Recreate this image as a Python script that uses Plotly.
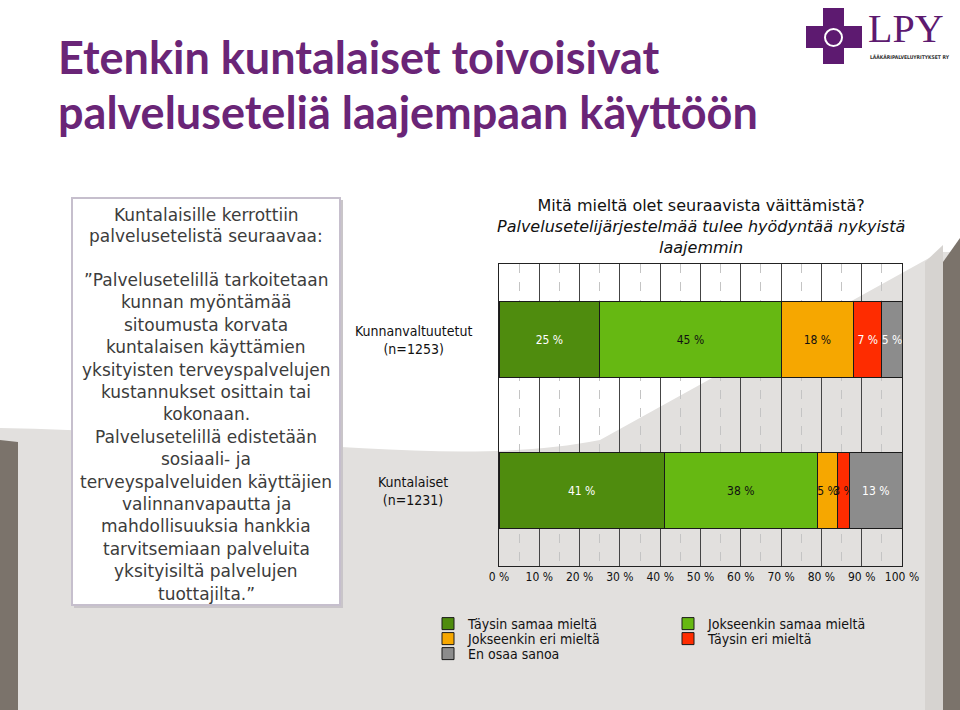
import plotly.graph_objects as go

# ---------------- data ----------------
categories = ["Kunnanvaltuutetut", "Kuntalaiset"]
n_values = [1253, 1231]
series_names = ["Täysin samaa mieltä", "Jokseenkin samaa mieltä",
                "Jokseenkin eri mieltä", "Täysin eri mieltä", "En osaa sanoa"]
taysin_samaa = [25, 41]
jokseenkin_samaa = [45, 38]
jokseenkin_eri = [18, 5]
taysin_eri = [7, 3]
en_osaa = [5, 13]
x_tick_values = [0, 10, 20, 30, 40, 50, 60, 70, 80, 90, 100]
x_tick_labels = [f"{v} %" for v in x_tick_values]

title_lines = ["Etenkin kuntalaiset toivoisivat", "palveluseteliä laajempaan käyttöön"]
chart_title_lines = ["Mitä mieltä olet seuraavista väittämistä?",
                     "<i>Palvelusetelijärjestelmää tulee hyödyntää nykyistä</i>",
                     "<i>laajemmin</i>"]
box_lines_head = ["Kuntalaisille kerrottiin", "palvelusetelistä seuraavaa:"]
box_lines_body = ["”Palvelusetelillä tarkoitetaan", "kunnan myöntämää", "sitoumusta korvata",
                  "kuntalaisen käyttämien", "yksityisten terveyspalvelujen",
                  "kustannukset osittain tai", "kokonaan.", "Palvelusetelillä edistetään",
                  "sosiaali- ja", "terveyspalveluiden käyttäjien", "valinnanvapautta ja",
                  "mahdollisuuksia hankkia", "tarvitsemiaan palveluita",
                  "yksityisiltä palvelujen", "tuottajilta.”"]

# ---------------- styles ----------------
W, H = 960, 710
PL, PR, PT, PB = 499, 902, 264, 566   # plot area in pixels
colors = ["#4f8c0e", "#66b812", "#f6a700", "#fe2c00", "#8c8c8c"]
CF = "DejaVu Sans Condensed, DejaVu Sans, sans-serif"


def px(x):
    return (x - PL) / (PR - PL)


def py(y):
    return (PB - y) / (PB - PT)


series = [taysin_samaa, jokseenkin_samaa, jokseenkin_eri, taysin_eri, en_osaa]
text_colors = [["white", "white"], ["#111111", "#111111"], ["#111111", "#111111"],
               ["white", "#111111"], ["white", "white"]]
legend_ids = ["legend", "legend2", "legend3", "legend4", "legend5"]

fig = go.Figure()
for name, vals, col, tc, lg in zip(series_names, series, colors, text_colors, legend_ids):
    fig.add_trace(go.Bar(
        y=categories, x=vals, name=name, orientation="h",
        marker=dict(color=col, line=dict(color="#1a1a1a", width=1)),
        text=[f"{v} %" for v in vals], textposition="inside", textangle=0,
        insidetextanchor="middle", constraintext="none",
        textfont=dict(family=CF, size=12, color=tc),
        width=0.5, legend=lg, hoverinfo="skip",
    ))

# legend positions (pixel rows / columns)
leg_pos = {"legend": (428, 624), "legend2": (668, 624), "legend3": (428, 639),
           "legend4": (668, 639), "legend5": (428, 654)}
legend_layouts = {}
for k, (lx, ly) in leg_pos.items():
    legend_layouts[k] = dict(x=px(lx), y=py(ly), xanchor="left", yanchor="middle",
                             bgcolor="rgba(0,0,0,0)", borderwidth=0,
                             font=dict(family=CF, size=14, color="#111111"),
                             itemwidth=30, tracegroupgap=0)

shapes = []
# background: light gray swoosh panel
shapes.append(dict(type="path", xref="paper", yref="paper", layer="below",
                   path=(f"M {px(0)},{py(428)} C {px(250)},{py(432)} {px(450)},{py(470)} {px(600)},{py(440)} "
                         f"L {px(940)},{py(252)} L {px(960)},{py(252)} L {px(960)},{py(710)} "
                         f"L {px(0)},{py(710)} Z"),
                   fillcolor="#e2e0de", line=dict(width=0)))
# dark side strips
shapes.append(dict(type="path", xref="paper", yref="paper", layer="below",
                   path=f"M {px(0)},{py(440)} L {px(18)},{py(442)} L {px(18)},{py(710)} L {px(0)},{py(710)} Z",
                   fillcolor="#7b736b", line=dict(width=0)))
shapes.append(dict(type="path", xref="paper", yref="paper", layer="below",
                   path=f"M {px(943)},{py(262)} L {px(960)},{py(238)} L {px(960)},{py(710)} L {px(943)},{py(710)} Z",
                   fillcolor="#7b736b", line=dict(width=0)))
shapes.append(dict(type="path", xref="paper", yref="paper", layer="below",
                   path=f"M {px(925)},{py(262)} L {px(943)},{py(245)} L {px(943)},{py(710)} L {px(925)},{py(710)} Z",
                   fillcolor="#d6d3d0", line=dict(width=0)))
# text box shadow + box
shapes.append(dict(type="rect", xref="paper", yref="paper", layer="below",
                   x0=px(74), x1=px(343), y0=py(200), y1=py(608),
                   fillcolor="#c9c5c9", line=dict(width=0)))
shapes.append(dict(type="rect", xref="paper", yref="paper", layer="below",
                   x0=px(72), x1=px(340), y0=py(198), y1=py(605),
                   fillcolor="white", line=dict(color="#c6bfcd", width=2)))
# logo: purple cross with circle
LOGO = "#5d1a70"
shapes.append(dict(type="rect", xref="paper", yref="paper", layer="above",
                   x0=px(806), x1=px(862), y0=py(26), y1=py(48), fillcolor=LOGO, line=dict(width=0)))
shapes.append(dict(type="rect", xref="paper", yref="paper", layer="above",
                   x0=px(823), x1=px(844), y0=py(8), y1=py(64), fillcolor=LOGO, line=dict(width=0)))
shapes.append(dict(type="circle", xref="paper", yref="paper", layer="above",
                   x0=px(825), x1=px(842), y0=py(29), y1=py(46), fillcolor=LOGO,
                   line=dict(color="white", width=2)))

annotations = []
# main title
for i, t in enumerate(title_lines):
    annotations.append(dict(text=f"<b>{t}</b>", xref="paper", yref="paper",
                            x=px(56), y=py(57 + 55 * i), xanchor="left", yanchor="middle",
                            showarrow=False,
                            font=dict(family="Lato, sans-serif", size=45, color="#6a2577")))
# logo text
annotations.append(dict(text="LPY", xref="paper", yref="paper", x=px(866), y=py(29),
                        xanchor="left", yanchor="middle", showarrow=False,
                        font=dict(family="Liberation Serif, serif", size=40, color=LOGO)))
annotations.append(dict(text="<b>LÄÄKÄRIPALVELUYRITYKSET RY</b>", xref="paper", yref="paper",
                        x=px(868), y=py(57), xanchor="left", yanchor="middle", showarrow=False,
                        font=dict(family="DejaVu Sans Condensed, sans-serif", size=5, color="#333333")))
# chart title (one block, three lines)
annotations.append(dict(text="<br>".join(chart_title_lines), xref="paper", yref="paper",
                        x=px(701), y=py(227), xanchor="center", yanchor="middle",
                        align="center", showarrow=False,
                        font=dict(family="DejaVu Sans, sans-serif", size=16, color="#111111")))
# text box lines
box_x = px(206)
for i, t in enumerate(box_lines_head):
    annotations.append(dict(text=t, xref="paper", yref="paper", x=box_x, y=py(215 + 21.5 * i),
                            xanchor="center", yanchor="middle", showarrow=False,
                            font=dict(family="DejaVu Sans, sans-serif", size=17, color="#3c3c3c")))
for i, t in enumerate(box_lines_body):
    annotations.append(dict(text=t, xref="paper", yref="paper", x=box_x, y=py(280 + 22.4 * i),
                            xanchor="center", yanchor="middle", showarrow=False,
                            font=dict(family="DejaVu Sans, sans-serif", size=17, color="#3c3c3c")))
# category labels
for c, n in zip(categories, n_values):
    annotations.append(dict(text=f"{c}<br>(n={n})", xref="paper", yref="y", x=px(413), y=c,
                            xanchor="center", yanchor="middle", align="center", showarrow=False,
                            font=dict(family=CF, size=14, color="#111111")))

fig.update_layout(
    width=W, height=H, barmode="stack",
    margin=dict(l=PL, r=W - PR, t=PT, b=H - PB, autoexpand=False),
    paper_bgcolor="white", plot_bgcolor="rgba(0,0,0,0)",
    showlegend=True, shapes=shapes, annotations=annotations,
    uniformtext=dict(minsize=12, mode="show"),
    bargap=0.5,
    **legend_layouts,
)
fig.update_xaxes(range=[0, 100], tickmode="array", tickvals=x_tick_values, ticktext=x_tick_labels,
                 showgrid=True, gridcolor="#444444", gridwidth=1,
                 minor=dict(dtick=5, showgrid=True, gridcolor="#c4c4c4", griddash="dash", gridwidth=1),
                 showline=True, mirror=True, linecolor="#222222", linewidth=1,
                 ticks="", tickfont=dict(family=CF, size=12, color="#111111"), zeroline=False,
                 fixedrange=True)
fig.update_yaxes(categoryorder="array", categoryarray=categories, range=[1.5, -0.5],
                 showticklabels=False, showgrid=False, showline=True, mirror=True,
                 linecolor="#222222", linewidth=1, ticks="", zeroline=False, fixedrange=True)

fig.write_html("out.html")
